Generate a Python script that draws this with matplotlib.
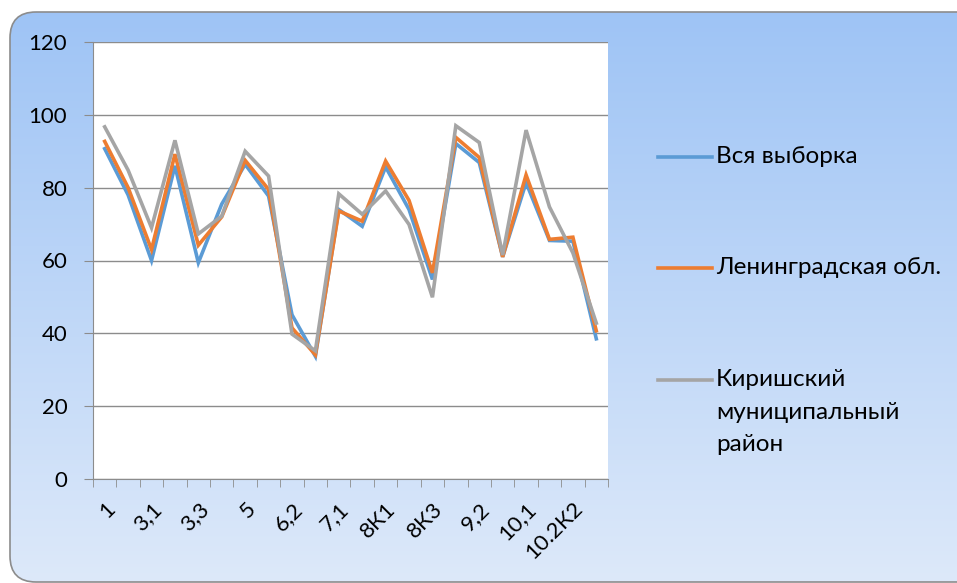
import numpy as np
import matplotlib
matplotlib.use("Agg")
import matplotlib.pyplot as plt
from matplotlib.patches import FancyBboxPatch
from matplotlib.lines import Line2D

plt.rcParams['font.family'] = ['Lato', 'DejaVu Sans']

# категории (подписана каждая вторая, как в Excel)
categories = ["1", "2", "3,1", "3,2", "3,3", "4", "5", "6,1", "6,2", "6,3", "7,1",
              "7,2", "8К1", "8К2", "8К3", "9,1", "9,2", "9,3", "10,1", "10.2К1",
              "10.2К2", "10.2К3"]

vsya = [90.7, 78, 60, 86, 59.4, 75.5, 86.4, 77.7, 45.1, 33.7, 74,
        69.4, 85.7, 74, 54.8, 92.1, 86.9, 61, 81.4, 65.5, 65.3, 38.5]
lenobl = [92.7, 80, 63, 89.2, 64.2, 72, 87.5, 79.5, 41.5, 34.1, 73.6,
          70.8, 87.3, 76.5, 56.6, 93.8, 88.3, 61, 83.5, 65.8, 66.4, 40.7]
kirishi = [96.7, 84.8, 69, 93, 67.3, 72.2, 90, 83.2, 39.8, 35.2, 78.3,
           72.7, 79.1, 69.9, 49.9, 97, 92.4, 61.5, 95.8, 74.7, 62.1, 42.8]

series_names = ["Вся выборка", "Ленинградская обл.", "Киришский\nмуниципальный\nрайон"]
colors = ["#5B9BD5", "#ED7D31", "#A5A5A5"]

W, H = 957, 583
fig = plt.figure(figsize=(W / 100, H / 100), dpi=100)

# фон: скруглённая рамка с градиентом
bg = fig.add_axes([0, 0, 1, 1])
bg.set_xlim(0, W)
bg.set_ylim(H, 0)
bg.axis("off")
top_c = np.array([157, 195, 245]) / 255
bot_c = np.array([221, 233, 250]) / 255
t = np.linspace(0, 1, 256).reshape(-1, 1, 1)
grad = top_c * (1 - t) + bot_c * t
im = bg.imshow(grad, extent=[0, W, H, 0], aspect="auto")
frame = FancyBboxPatch((10, 12), W + 40, H - 13, boxstyle="round,pad=0,rounding_size=26",
                       facecolor="none", edgecolor="#8c8c8c", linewidth=1.2)
bg.add_patch(frame)
im.set_clip_path(frame)

ax = fig.add_axes([93 / W, 1 - 479 / H, (608 - 93) / W, (479 - 42) / H])
ax.set_facecolor("white")
x = np.arange(len(categories))
for vals, name, c in zip([vsya, lenobl, kirishi], series_names, colors):
    ax.plot(x, vals, color=c, linewidth=2.6, label=name, solid_joinstyle="miter")

ax.set_xlim(-0.5, len(categories) - 0.5)
ax.set_ylim(0, 120)
ax.set_yticks(range(0, 121, 20))
ax.yaxis.grid(True, color="#8c8c8c", linewidth=1)
ax.set_axisbelow(True)

ax.set_xticks(x[::2])
ax.set_xticklabels(categories[::2], rotation=45, ha="right", va="top",
                   rotation_mode="anchor", fontsize=16)
ax.set_xticks(np.arange(-0.5, len(categories), 1), minor=True)
ax.tick_params(axis="x", which="major", length=0, pad=14)
ax.tick_params(axis="x", which="minor", length=6, color="#8c8c8c", direction="out")
ax.tick_params(axis="y", length=6.5, color="#8c8c8c", labelsize=16, pad=12)

for s in ["top", "right"]:
    ax.spines[s].set_visible(False)
for s in ["left", "bottom"]:
    ax.spines[s].set_color("#8c8c8c")

# легенда справа: маркер на уровне первой строки, как в Excel
legend_y = [157, 268, 380]
for name, c, y in zip(series_names, colors, legend_y):
    bg.add_line(Line2D([658, 712], [y, y], color=c, linewidth=2.6))
    bg.text(716, y - 11, name, fontsize=17.5, ha="left", va="top", linespacing=1.68)

fig.savefig("out.png", dpi=100)
